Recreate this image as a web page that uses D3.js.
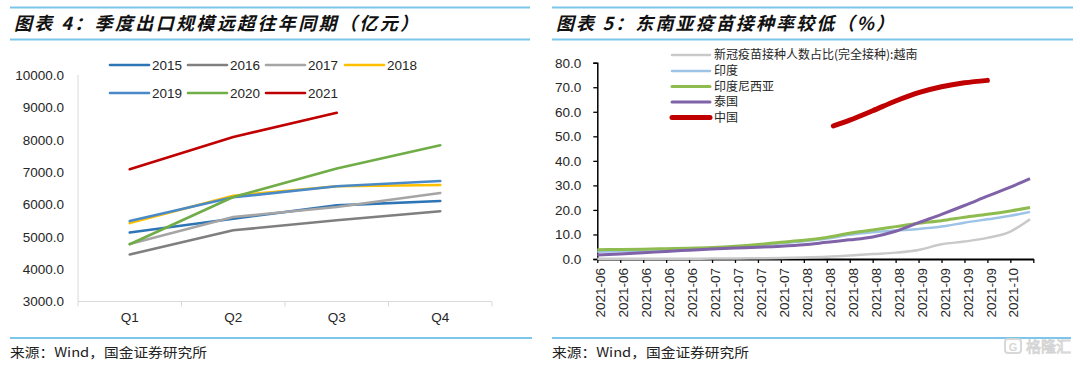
<!DOCTYPE html>
<html><head><meta charset="utf-8">
<script src="https://cdn.jsdelivr.net/npm/d3@7"></script>
<style>body{margin:0;background:#fff} svg{display:block}</style>
</head><body><svg id="c" width="1080" height="367"></svg>
<script>
// ---------- Left chart data ----------
const quarters = ["Q1","Q2","Q3","Q4"];
const yearNames = ["2015","2016","2017","2018","2019","2020","2021"];
const v2015 = [5130,5560,5970,6105];
const v2016 = [4455,5200,5510,5790];
const v2017 = [4780,5610,5920,6355];
const v2018 = [5424,6270,6560,6600];
const v2019 = [5486,6220,6560,6725];
const v2020 = [4768,6230,7108,7830];
const v2021 = [7087,8087,8830];
const leftYTicks = [3000,4000,5000,6000,7000,8000,9000,10000];
const yearColors = ["#2e75b6","#7f7f7f","#a5a5a5","#ffc000","#4a89c8","#70ad47","#c00000"];

// ---------- Right chart data ----------
const vaxTickDates = ["2021-06-01","2021-06-08","2021-06-15","2021-06-22","2021-06-29",
  "2021-07-06","2021-07-13","2021-07-20","2021-07-27",
  "2021-08-03","2021-08-10","2021-08-17","2021-08-24","2021-08-31",
  "2021-09-07","2021-09-14","2021-09-21","2021-09-28","2021-10-05"];
const vaxTickLabels = ["2021-06","2021-06","2021-06","2021-06","2021-06",
  "2021-07","2021-07","2021-07","2021-07",
  "2021-08","2021-08","2021-08","2021-08","2021-08",
  "2021-09","2021-09","2021-09","2021-09","2021-10"];
const vaxAxisEnd = "2021-10-12";
const vaxDates = ["2021-06-01","2021-06-08","2021-06-15","2021-06-22","2021-06-29",
  "2021-07-06","2021-07-13","2021-07-20","2021-07-27",
  "2021-08-03","2021-08-10","2021-08-17","2021-08-24","2021-08-31",
  "2021-09-07","2021-09-14","2021-09-21","2021-09-28","2021-10-05","2021-10-11"];
const vietnam   = [0.1,0.1,0.1,0.1,0.1,0.2,0.2,0.3,0.4,0.6,0.9,1.4,2.0,2.6,3.7,6.0,7.1,8.6,11.2,16.2];
const india     = [3.0,3.2,3.4,3.7,4.0,4.3,4.8,5.5,6.4,7.2,8.3,9.9,10.9,11.6,12.2,13.2,14.8,16.2,17.6,19.2];
const indonesia = [3.8,3.9,4.0,4.2,4.4,4.7,5.2,5.9,6.8,7.6,8.8,10.5,11.8,13.2,14.6,15.6,17.0,18.2,19.6,21.0];
const thailand  = [1.6,2.0,2.5,3.1,3.6,4.1,4.5,4.8,5.2,5.8,6.8,7.8,9.0,11.3,14.8,18.2,21.8,25.6,29.3,32.8];
const chinaDates = ["2021-08-12","2021-08-17","2021-08-24","2021-08-31","2021-09-07","2021-09-14","2021-09-21","2021-09-28"];
const china      = [54.2,56.6,60.4,64.4,67.8,70.2,71.8,72.8];
const vaxNames = ["新冠疫苗接种人数占比(完全接种):越南","印度","印度尼西亚","泰国","中国"];
const vaxColors = ["#c9c9c9","#9dc3e6","#8fbc4f","#7f62a8","#c00000"];
const vaxWidths = [2.5,2.5,3,3,5];
const rightYTicks = [0,10,20,30,40,50,60,70,80];

const titleLeft = "图表 4：季度出口规模远超往年同期（亿元）";
const titleRight = "图表 5：东南亚疫苗接种率较低（%）";
const sourceText = "来源：Wind，国金证券研究所";

const svg = d3.select("#c");
const NUM = "'Liberation Sans', Arial, sans-serif";
const CJK = "'Noto Sans CJK SC', sans-serif";
const RULE = "#7cc6ec";

// ----- frames: titles and rules -----
function frame(x0, x1, title, tlen, fx1) {
  svg.append("line").attr("x1",x0).attr("x2",x1).attr("y1",7.5).attr("y2",7.5).attr("stroke",RULE).attr("stroke-width",2);
  svg.append("line").attr("x1",x0).attr("x2",x1).attr("y1",39.5).attr("y2",39.5).attr("stroke",RULE).attr("stroke-width",2);
  svg.append("text").attr("x",x0+4).attr("y",30).attr("font-family",CJK).attr("font-weight","bold")
    .attr("font-style","italic").attr("font-size",18).attr("fill","#111")
    .attr("textLength",tlen).attr("lengthAdjust","spacing").text(title);
  svg.append("line").attr("x1",x0).attr("x2",fx1).attr("y1",338).attr("y2",338).attr("stroke",RULE).attr("stroke-width",2);
  svg.append("text").attr("x",x0).attr("y",357).attr("font-family",CJK).attr("font-size",13).attr("fill","#222")
    .attr("textLength",197).attr("lengthAdjust","spacingAndGlyphs").text(sourceText);
}
frame(10, 530, titleLeft, 404, 532);
frame(552, 1073, titleRight, 338, 1071);

// ----- Left chart -----
const xL = d3.scaleBand().domain(quarters).range([78, 492]);
const yL = d3.scaleLinear().domain([3000, 10000]).range([301.5, 75]);
const gL = svg.append("g");
gL.append("line").attr("x1",78).attr("x2",78).attr("y1",yL(10000)).attr("y2",yL(3000)).attr("stroke","#d9d9d9");
gL.selectAll(".yl").data(leftYTicks).join("text").attr("x",64).attr("y",d=>yL(d)).attr("dy","0.36em")
  .attr("text-anchor","end").attr("font-family",NUM).attr("font-size",13.5).attr("fill","#262626")
  .text(d=>d3.format(".1f")(d));
gL.append("line").attr("x1",78).attr("x2",492).attr("y1",yL(3000)).attr("y2",yL(3000)).attr("stroke","#d9d9d9");
const bounds = quarters.map(q=>xL(q)).concat([xL(quarters[3])+xL.bandwidth()]);
gL.selectAll(".xt").data(bounds).join("line").attr("x1",d=>d).attr("x2",d=>d)
  .attr("y1",yL(3000)).attr("y2",yL(3000)+5).attr("stroke","#d9d9d9");
gL.selectAll(".xl").data(quarters).join("text").attr("x",d=>xL(d)+xL.bandwidth()/2).attr("y",322)
  .attr("text-anchor","middle").attr("font-family",NUM).attr("font-size",13.5).attr("fill","#262626").text(d=>d);
const yearSeries = [v2015,v2016,v2017,v2018,v2019,v2020,v2021];
const lineL = d3.line().x((d,i)=>xL(quarters[i])+xL.bandwidth()/2).y(d=>yL(d));
yearSeries.forEach((s,i)=>{
  gL.append("path").attr("d",lineL(s)).attr("fill","none").attr("stroke",yearColors[i])
    .attr("stroke-width",2.6).attr("stroke-linejoin","round").attr("stroke-linecap","round");
});
const legPos = [[110,65],[188,65],[266,65],[345,65],[110,93],[188,93],[266,93]];
yearNames.forEach((n,i)=>{
  const [lx,ly]=legPos[i];
  gL.append("line").attr("x1",lx).attr("x2",lx+39).attr("y1",ly).attr("y2",ly)
    .attr("stroke",yearColors[i]).attr("stroke-width",2.6).attr("stroke-linecap","round");
  gL.append("text").attr("x",lx+42).attr("y",ly).attr("dy","0.36em").attr("font-family",NUM)
    .attr("font-size",13.5).attr("fill","#262626").text(n);
});

// ----- Right chart -----
const pd = d3.timeParse("%Y-%m-%d");
const xR = d3.scaleTime().domain([pd(vaxTickDates[0]), pd(vaxAxisEnd)]).range([597.3, 1033.3]);
const yR = d3.scaleLinear().domain([0, 80]).range([259, 62.7]);
const gR = svg.append("g");
const yAx = gR.append("g").attr("transform","translate(597.3,0)")
  .call(d3.axisLeft(yR).tickValues(rightYTicks).tickSize(4).tickFormat(d3.format(".1f")));
yAx.select(".domain").attr("stroke","#000").attr("stroke-width",1.5);
yAx.selectAll(".tick line").attr("stroke","#000").attr("stroke-width",1.3);
yAx.selectAll(".tick text").attr("x",-16).attr("font-family",NUM).attr("font-size",13.5).attr("fill","#262626");

const xAx = gR.append("g").attr("transform","translate(0,259)")
  .call(d3.axisBottom(xR).tickValues(vaxTickDates.map(pd).concat([pd(vaxAxisEnd)])).tickSize(4).tickSizeOuter(0)
    .tickFormat((d,i)=> i < vaxTickLabels.length ? vaxTickLabels[i] : ""));
xAx.select(".domain").attr("stroke","#000").attr("stroke-width",1.8);
xAx.selectAll(".tick line").attr("stroke","#000").attr("stroke-width",1.3);
xAx.selectAll(".tick text").attr("font-family",NUM).attr("font-size",13.5).attr("fill","#262626")
  .attr("text-anchor","end").attr("x",-9).attr("y",0).attr("dy","0.38em")
  .attr("transform","rotate(-90) translate(0,2.5)");

const lineR = d3.line().x(d=>xR(d[0])).y(d=>yR(d[1])).curve(d3.curveMonotoneX);
const vaxSeries = [vietnam, india, indonesia, thailand];
vaxSeries.forEach((s,i)=>{
  const pts = s.map((v,j)=>[pd(vaxDates[j]), v]);
  gR.append("path").attr("d",lineR(pts)).attr("fill","none").attr("stroke",vaxColors[i])
    .attr("stroke-width",vaxWidths[i]).attr("stroke-linejoin","round");
});
{
  const pts = china.map((v,j)=>[pd(chinaDates[j]), v]);
  gR.append("path").attr("d",lineR(pts)).attr("fill","none").attr("stroke",vaxColors[4])
    .attr("stroke-width",vaxWidths[4]).attr("stroke-linecap","round").attr("stroke-linejoin","round");
}
const legY = [55,71,86.5,102,117.5];
vaxNames.forEach((n,i)=>{
  gR.append("line").attr("x1",672).attr("x2",710).attr("y1",legY[i]).attr("y2",legY[i])
    .attr("stroke",vaxColors[i]).attr("stroke-width",vaxWidths[i]).attr("stroke-linecap","round");
  gR.append("text").attr("x",714).attr("y",legY[i]).attr("dy","0.36em").attr("font-family",CJK)
    .attr("font-size",12).attr("fill","#262626").text(n);
});

// watermark
const wm = svg.append("g").attr("opacity",0.9);
wm.append("rect").attr("x",1005).attr("y",339).attr("width",16).attr("height",14).attr("rx",3)
  .attr("fill","none").attr("stroke","#d4d4d4").attr("stroke-width",2);
wm.append("text").attr("x",1013).attr("y",350.5).attr("text-anchor","middle").attr("font-family",NUM)
  .attr("font-weight","bold").attr("font-size",11).attr("fill","#d4d4d4").text("G");
wm.append("text").attr("x",1026).attr("y",352).attr("font-family",CJK).attr("font-size",15)
  .attr("fill","#fff").attr("stroke","#cfcfcf").attr("stroke-width",0.9).text("格隆汇");
</script></body></html>
